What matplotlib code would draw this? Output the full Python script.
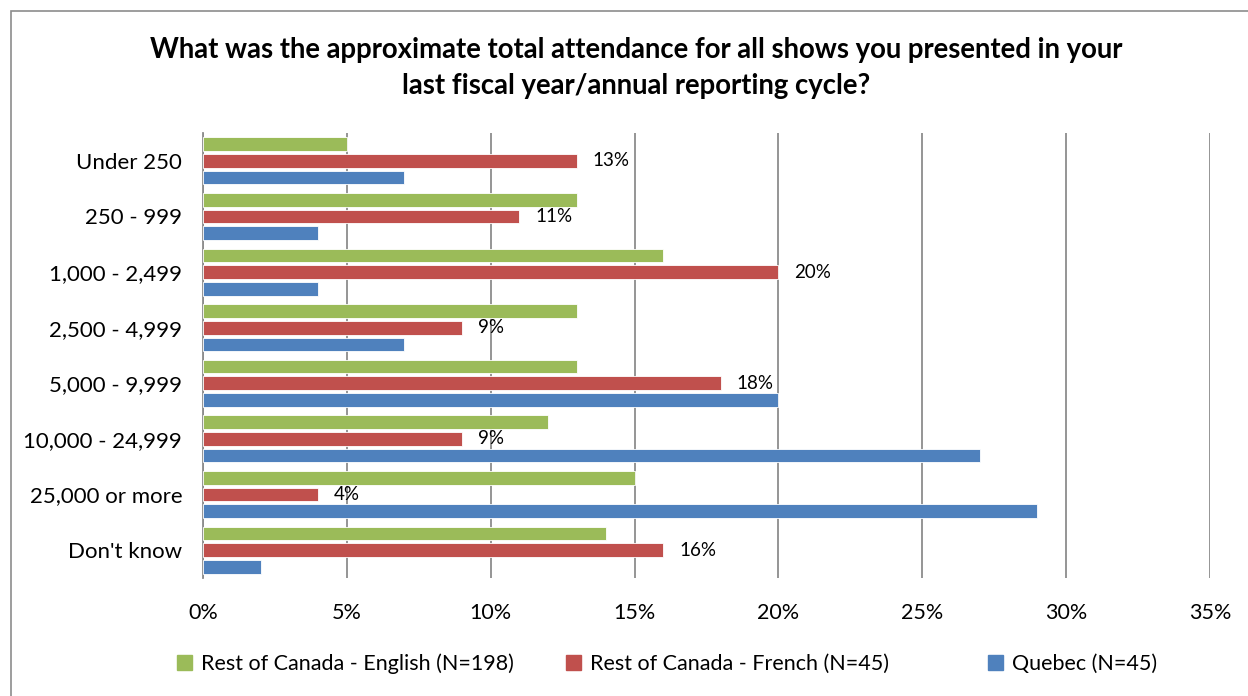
import matplotlib
matplotlib.use("Agg")
from matplotlib import pyplot as plt
from matplotlib.patches import Rectangle
import numpy as np

plt.rcParams['font.family'] = ['Lato', 'DejaVu Sans']

categories = ["Under 250", "250 - 999", "1,000 - 2,499", "2,500 - 4,999",
              "5,000 - 9,999", "10,000 - 24,999", "25,000 or more", "Don't know"]
english = [5, 13, 16, 13, 13, 12, 15, 14]
french = [13, 11, 20, 9, 18, 9, 4, 16]
quebec = [7, 4, 4, 7, 20, 27, 29, 2]
series_names = ["Rest of Canada - English (N=198)",
                "Rest of Canada - French (N=45)",
                "Quebec (N=45)"]
colors = ["#9BBB59", "#C0504D", "#4F81BD"]

fig = plt.figure(figsize=(12.48, 6.96), dpi=100)
ax = fig.add_axes([203 / 1248, 1 - 578 / 696, (1210 - 203) / 1248, (578 - 133) / 696])

y = np.arange(len(categories))
step = 0.3
h = 0.245
for i, (vals, c) in enumerate(zip([english, french, quebec], colors)):
    ax.barh(y + (i - 1) * step, vals, height=h, color=c, edgecolor="white",
            linewidth=0.6, label=series_names[i], zorder=3)

for yi, v in zip(y, french):
    ax.text(v + 0.55, yi, f"{v}%", va="center", ha="left", fontsize=13.5, zorder=4)

ax.set_xlim(0, 35)
ax.set_ylim(len(categories) - 0.5, -0.5)
ax.set_xticks(np.arange(0, 36, 5))
ax.set_xticklabels([f"{t}%" for t in range(0, 36, 5)], fontsize=15.5)
ax.set_yticks(y)
ax.set_yticklabels(categories, fontsize=16)
ax.tick_params(length=0)
ax.tick_params(axis="x", pad=18)
ax.tick_params(axis="y", pad=15)
ax.grid(axis="x", color="#8c8c8c", linewidth=1.3, zorder=0)
for s in ["top", "right", "bottom"]:
    ax.spines[s].set_visible(False)
ax.spines["left"].set_color("#8c8c8c")
ax.spines["left"].set_linewidth(1.3)

fig.text(636 / 1248, 1 - 68 / 696,
         "What was the approximate total attendance for all shows you presented in your\nlast fiscal year/annual reporting cycle?",
         ha="center", va="center", fontsize=19.8, fontweight="bold", linespacing=1.5)

legend_x = [177, 566, 988]
for name, c, lx in zip(series_names, colors, legend_x):
    fig.legend([Rectangle((0, 0), 1, 1, color=c)], [name], loc="center left",
               bbox_to_anchor=(lx / 1248, 1 - 664 / 696), frameon=False,
               fontsize=15.5, handlelength=0.7, handleheight=0.7,
               handletextpad=0.4, borderaxespad=0, borderpad=0)

fig.patches.append(Rectangle((11 / 1248, -0.1), 1.2, 1 - 11 / 696 + 0.1,
                             transform=fig.transFigure, fill=False,
                             edgecolor="#8c8c8c", linewidth=1.2))

fig.savefig("out.png", dpi=100)
